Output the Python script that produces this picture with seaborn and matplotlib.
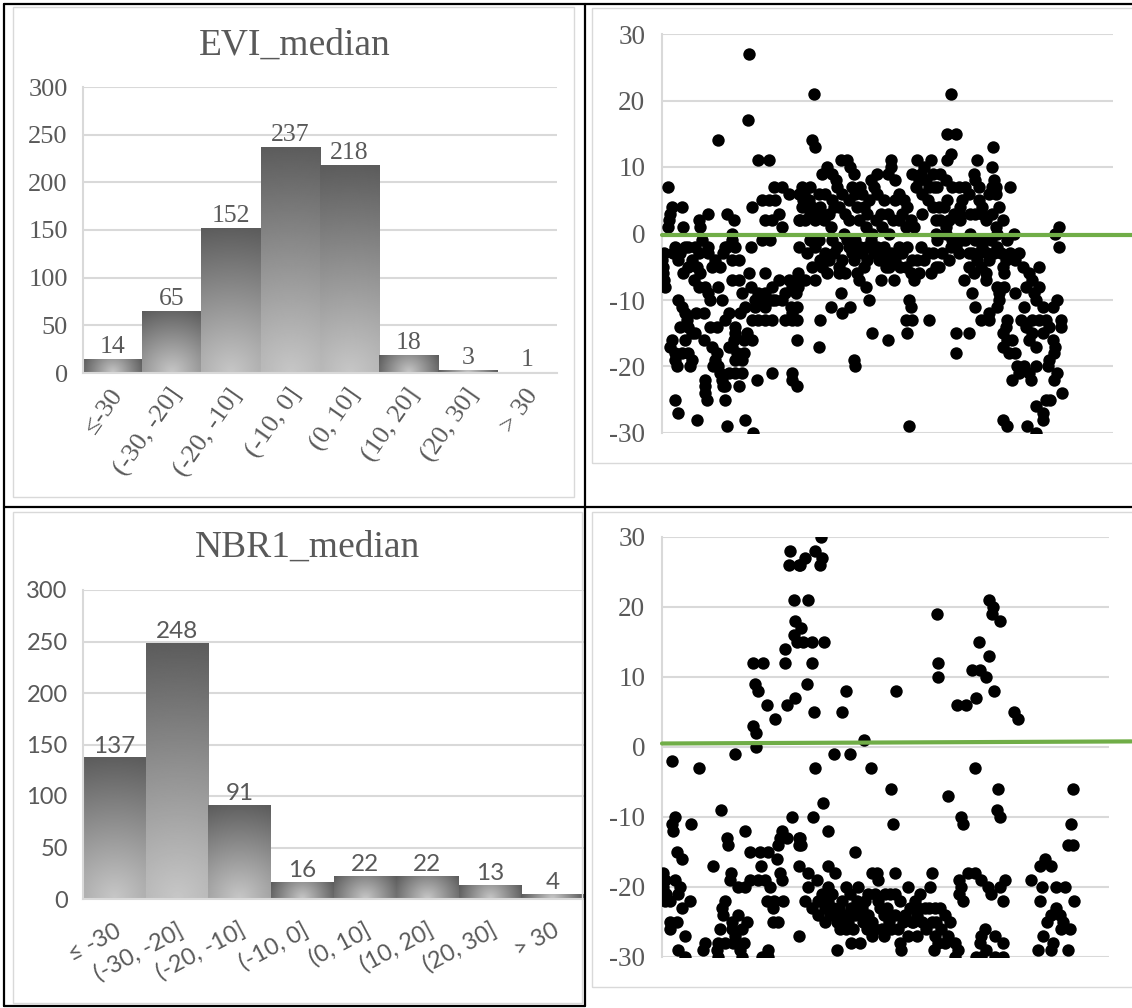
import numpy as np
import pandas as pd
import matplotlib
matplotlib.use('Agg')
import matplotlib.pyplot as plt
import matplotlib.transforms as mtransforms
from matplotlib.lines import Line2D
from matplotlib.patches import Rectangle
import seaborn as sns

# ---- histogram data ----
evi_bins = ['≤-30', '(-30, -20]', '(-20, -10]', '(-10, 0]', '(0, 10]', '(10, 20]', '(20, 30]', '> 30']
nbr_bins = ['≤ -30', '(-30, -20]', '(-20, -10]', '(-10, 0]', '(0, 10]', '(10, 20]', '(20, 30]', '> 30']
evi_counts = [14, 65, 152, 237, 218, 18, 3, 1]
nbr_counts = [137, 248, 91, 16, 22, 22, 13, 4]

# ---- scatter data (sample index, difference) ----
evi_points = [
    (154, 27), (152, 17), (100, 14), (170, 11), (189, 11), (11, 7),
    (17, 4), (14, 3), (12, 2), (11, 1), (35, 4), (38, 1), (65, 2), (82, 3), (68, 1), (115, 3), (127, 2),
    (124, 0), (124, -1), (157, -2), (177, -1), (192, -1),
    (160, 4), (177, 5), (198, 7), (213, 7), (225, 6), (183, 2), (195, 2), (207, 3), (213, 1), (189, 5),
    (201, 5), (243, 6), (243, 2), (243, -2),
    (0, -4), (1, -5), (2, -6), (4, -7), (5, -8), (3, -3),
    (23, -2), (32, -3), (41, -2), (47, -2), (59, -2), (71, -1), (82, -2), (65, -3), (53, -4), (29, -4),
    (47, -5), (62, -5), (82, -3), (94, -4), (88, -5), (103, -5), (112, -2), (115, -2), (130, -2), (124, -4),
    (136, -4), (109, -3),
    (65, -8), (76, -8), (82, -9), (85, -10), (124, -7), (136, -7), (154, -6), (183, -6), (157, -8), (171, -9),
    (183, -9), (165, -10), (177, -10), (195, -10), (165, -11), (183, -11), (195, -8), (207, -7), (225, -7),
    (237, -7), (219, -9), (231, -8), (142, -9), (148, -11), (160, -13), (171, -13), (183, -13), (195, -13),
    (228, -11), (231, -12), (231, -13),
    (29, -10), (35, -11), (41, -12), (44, -13), (47, -14), (32, -14), (53, -15), (59, -15), (41, -16),
    (85, -14), (97, -14), (112, -13), (74, -16), (74, -12),
    (130, -14), (130, -15), (127, -16), (124, -17), (133, -18), (145, -18), (145, -16), (160, -16),
    (142, -19), (130, -19),
    (17, -16), (14, -17), (23, -18), (23, -19), (26, -20), (35, -18), (47, -18), (53, -19), (50, -20),
    (97, -18), (94, -19), (91, -20), (100, -20), (103, -21), (106, -22), (109, -23), (112, -23), (118, -21),
    (130, -21), (142, -21), (136, -23), (76, -22), (76, -23), (76, -24), (79, -25),
    (23, -25), (29, -27), (62, -28), (112, -25), (115, -29), (148, -28), (162, -30), (168, -22), (195, -21),
    (231, -21), (231, -22), (240, -23),
    (20, -3), (38, -6), (56, -7), (68, -6), (100, -8), (106, -10), (118, -12), (139, -12), (150, -15),
    (201, -10), (213, -10), (219, -13), (60, -12), (88, -17), (118, -17),
    (269, 21), (266, 14), (271, 13), (317, 11), (328, 11), (293, 10), (284, 9), (302, 9), (308, 8), (311, 7),
    (334, 10), (340, 9),
    (248, 7), (263, 7), (251, 6), (260, 5), (248, 4), (266, 4), (263, 3), (245, 2), (254, 2), (272, 2),
    (284, 3), (287, 2), (281, 4), (290, 6), (302, 5),
    (314, 4), (331, 5), (325, 3), (331, 2), (352, 7), (355, 6), (349, 2), (364, 3), (379, 2), (361, 1),
    (373, 0),
    (370, 8), (382, 9), (376, 7), (382, 6), (394, 5), (400, 9), (406, 11), (406, 10), (414, 8), (420, 6),
    (414, 5), (429, 5), (400, 3),
    (420, 2), (432, 1), (447, 1), (453, 11), (465, 10), (477, 11), (480, 9), (456, 8), (450, 7), (462, 6),
    (474, 7), (471, 5), (480, 4), (462, 3), (486, 2), (486, 0),
    (250, 5), (257, 4), (275, 3), (278, 6), (296, 3), (299, 1), (305, 4), (320, 6), (337, 7), (343, 6),
    (346, 4), (358, 4), (367, 5), (388, 3), (391, 1), (403, 0), (410, 2), (426, 3), (435, 4), (441, 2),
    (444, 9), (459, 9), (468, 8), (483, 7),
    (257, -3), (272, -2), (281, -4), (284, -5), (293, -6), (302, -1), (305, -3), (314, -5), (314, -6),
    (325, -6), (311, -2), (322, 0), (331, -2), (337, -3), (340, -4), (352, -2), (355, -3), (358, -5),
    (364, -4), (376, -3), (385, -4), (391, -3), (397, -4), (397, -5), (388, -7), (406, -3), (414, -4),
    (420, -2), (423, -5), (432, -5), (441, -6), (447, -7), (456, -6), (453, -4), (471, -3), (480, -3),
    (486, -5),
    (262, -1), (266, -5), (278, -1), (290, -3), (296, -4), (320, -4), (328, -1), (343, -1), (346, -6),
    (361, -2), (370, -1), (382, -2), (394, -2), (403, -5), (411, -7), (426, -3), (435, -2), (444, -4),
    (459, -2), (465, -4), (477, -6),
    (242, -6), (254, -7), (242, -8), (237, -9), (272, -7), (317, -9), (349, -7), (361, -8), (367, -10),
    (299, -11), (334, -11), (320, -12), (281, -13), (239, -11), (239, -13),
    (438, -10), (441, -11), (432, -13), (444, -13), (474, -13), (435, -15), (373, -15), (400, -16),
    (278, -17), (239, -16), (340, -19), (343, -20), (438, -29),
    (512, 21), (506, 15), (521, 15), (512, 12), (506, 11), (587, 13), (559, 11), (586, 10),
    (494, 9), (503, 8), (488, 7), (515, 7), (527, 7), (538, 7), (544, 6), (553, 9), (556, 8), (562, 7),
    (589, 8), (592, 7), (586, 7), (592, 6), (618, 7),
    (491, 4), (506, 5), (529, 4), (527, 3), (529, 2), (562, 5), (568, 4), (568, 3), (574, 2), (586, 3),
    (592, 1), (595, 0), (494, 2), (509, 2), (503, 1),
    (500, 4), (518, 3), (532, 5), (547, 3), (556, 3), (580, 6), (598, 4), (604, 2),
    (488, -1), (503, 0), (515, -1), (512, -2), (521, -2), (527, -3), (538, -1), (544, -3), (550, -3),
    (556, -1), (562, -3), (568, -2), (577, -3), (580, -4), (589, -3), (601, -3), (610, -4), (612, -1),
    (624, 0), (627, -4), (491, -5), (544, -5), (553, -6), (565, -5), (574, -6), (574, -7), (535, -7),
    (607, -6),
    (497, -3), (509, -4), (530, -1), (547, 0), (559, -4), (571, -1), (583, -1), (595, -2), (604, -5),
    (618, -3), (633, -3), (640, -5), (645, -8), (660, -9),
    (550, -9), (556, -11), (565, -13), (580, -12), (580, -13), (595, -8), (598, -9), (607, -8), (598, -10),
    (595, -11), (627, -9), (521, -15), (544, -15), (521, -18),
    (651, -6), (669, -5), (657, -7), (669, -8), (642, -11), (663, -10), (675, -11), (693, -11), (701, -10),
    (636, -13), (645, -14), (657, -13), (669, -13), (681, -13), (687, -14), (707, -13), (707, -14),
    (612, -13), (610, -14), (604, -15), (612, -16), (621, -16), (604, -17), (615, -18), (627, -18),
    (651, -16), (657, -15), (675, -15), (693, -16), (698, -17), (695, -18), (687, -19), (663, -17),
    (630, -20), (642, -20), (651, -21), (633, -21), (621, -22), (654, -22), (663, -20), (684, -20),
    (695, -22), (701, -21), (710, -24), (681, -25), (689, -25), (663, -26), (675, -27), (675, -28),
    (604, -28), (612, -29), (648, -29), (663, -30), (704, 1), (698, 0), (704, -2),
]

nbr_points = [
    (228, 28), (225, 26), (243, 26), (234, 21), (237, 18), (234, 16), (240, 15), (219, 14), (219, 12),
    (162, 12), (180, 12), (166, 9), (170, 8), (186, 6), (201, 4), (222, 6), (237, 7), (161, 3), (168, 2),
    (167, 0), (130, -1), (18, -2), (66, -3), (105, -9), (231, -10),
    (23, -10), (17, -11), (20, -12), (52, -11), (148, -12), (115, -13), (117, -14), (213, -12), (210, -13),
    (222, -13), (207, -14), (243, -13), (243, -14),
    (26, -15), (36, -16), (157, -15), (174, -15), (189, -15), (204, -16), (176, -17), (90, -17), (243, -17),
    (2, -18), (5, -19), (2, -20), (8, -21), (5, -22), (14, -22), (23, -19), (32, -20), (29, -21),
    (50, -22), (35, -23),
    (123, -18), (121, -19), (136, -20), (148, -20), (157, -19), (171, -19), (183, -19), (192, -20),
    (210, -18), (214, -19),
    (112, -22), (106, -23), (109, -24), (186, -22), (200, -22), (215, -22), (198, -23),
    (14, -25), (26, -25), (14, -26), (124, -25), (136, -24), (151, -25), (124, -26), (142, -26), (130, -27),
    (198, -25), (207, -25), (103, -26), (41, -27), (243, -27),
    (29, -29), (41, -30), (76, -28), (73, -29), (100, -28), (112, -28), (97, -29), (100, -30), (127, -28),
    (145, -28), (139, -29), (142, -30), (178, -30), (189, -29), (189, -30),
    (283, 30), (272, 28), (284, 27), (281, 26), (254, 27), (245, 26), (260, 21),
    (248, 17), (251, 15), (266, 15), (289, 15), (266, 12), (257, 9), (327, 8), (271, 5), (320, 5),
    (359, 1), (417, 8), (489, 19), (491, 12), (490, 10),
    (306, -1), (334, -1), (273, -3), (372, -3), (407, -6), (286, -8), (269, -10), (410, -11), (296, -12),
    (245, -13), (248, -14), (344, -15), (295, -17),
    (260, -18), (260, -20), (275, -19), (296, -20), (308, -18), (327, -20), (373, -18), (382, -18),
    (385, -19), (414, -18), (438, -20), (477, -20), (481, -18),
    (254, -22), (278, -22), (293, -21), (296, -22), (290, -23), (278, -24), (290, -25), (305, -23),
    (314, -23), (317, -24), (311, -25), (317, -26), (328, -26), (325, -24), (337, -23), (346, -22),
    (355, -23), (352, -24), (361, -22), (367, -21), (379, -21), (385, -22), (373, -25), (364, -26),
    (379, -26), (394, -24), (400, -23), (406, -21), (414, -21), (423, -22), (414, -24), (420, -26),
    (429, -25), (441, -23), (450, -22), (459, -21), (456, -23), (447, -25), (438, -27), (462, -25),
    (474, -23), (486, -23), (480, -25), (486, -27),
    (311, -29), (337, -28), (352, -28), (394, -27), (373, -27), (423, -28), (425, -29), (483, -29),
    (299, -24), (331, -25), (343, -24), (358, -25), (367, -24), (388, -23), (403, -25), (432, -24),
    (444, -25), (453, -24), (468, -23), (302, -21), (320, -22), (334, -21), (349, -20), (397, -21),
    (408, -26), (392, -26), (470, -26), (453, -27), (339, -26), (285, -21), (266, -23),
    (581, 21), (589, 20), (587, 19), (602, 18), (563, 15), (581, 13), (565, 11), (552, 11), (577, 10),
    (591, 8), (559, 7), (525, 6), (540, 6), (626, 5), (633, 4),
    (556, -3), (509, -7), (598, -6), (532, -10), (535, -11), (596, -9), (601, -10), (731, -6), (728, -11),
    (722, -14), (731, -14),
    (681, -16), (672, -17), (691, -17), (657, -19), (675, -20), (701, -20), (716, -20), (672, -22),
    (733, -22), (701, -23), (692, -24), (707, -24), (684, -25), (713, -25), (710, -26), (725, -26),
    (678, -27), (695, -28), (669, -29), (692, -29), (722, -29),
    (529, -19), (544, -18), (556, -18), (568, -19), (580, -20), (601, -20), (610, -19), (532, -20),
    (529, -21), (535, -22), (586, -21), (607, -22),
    (494, -23), (503, -24), (512, -25), (497, -26), (509, -27), (521, -28), (526, -29), (521, -30),
    (491, -28), (488, -25), (503, -28),
    (574, -26), (568, -27), (565, -28), (577, -29), (559, -30), (568, -30), (592, -27), (607, -28),
    (592, -30), (607, -30),
]

# green reference lines (start / end value)
trend_x = [0, 835]
evi_trend = [-0.3, -0.3]
nbr_trend = [0.5, 0.8]

GRID = '#d9d9d9'
TXT = '#595959'
SERIF = ['Liberation Serif', 'DejaVu Serif']
SANS = ['Lato', 'DejaVu Sans']

sns.set_style('white')
plt.rcParams['font.family'] = SERIF

W, H = 1132, 1008
fig = plt.figure(figsize=(W / 100, H / 100), dpi=100)


def rect(x0, y0, x1, y1):
    # pixel box -> figure fraction rect
    return [x0 / W, 1 - y1 / H, (x1 - x0) / W, (y1 - y0) / H]


def shade_bars(ax, xlim, ylim):
    # Excel style gradient: light at bottom centre, dark towards the far corners
    for p in list(ax.patches):
        h = p.get_height()
        if h <= 0:
            continue
        bb = p.get_window_extent()
        wp, hp = max(int(bb.width), 2), max(int(round(bb.height)), 2)
        xx, yy = np.meshgrid(np.linspace(-wp / 2, wp / 2, wp), np.linspace(0, hp, hp))
        t = np.hypot(xx, yy) / np.hypot(wp / 2, hp)
        img = 0.78 - 0.42 * t
        ax.imshow(img, cmap='gray', vmin=0, vmax=1, origin='lower', aspect='auto',
                  extent=(p.get_x(), p.get_x() + p.get_width(), 0, h), zorder=2,
                  interpolation='bilinear')
        p.set_visible(False)
    ax.set_xlim(*xlim)
    ax.set_ylim(*ylim)


def histogram(box, labels, counts, font, tsize, lsize, rot, pad, dx):
    ax = fig.add_axes(rect(*box))
    sns.barplot(x=labels, y=counts, ax=ax, color='gray', width=1.0, saturation=1)
    ax.set_xlim(-0.5, len(labels) - 0.5)
    ax.set_ylim(0, 300)
    shade_bars(ax, (-0.5, len(labels) - 0.5), (0, 300))
    ax.set_yticks(range(0, 301, 50))
    ax.yaxis.grid(True, color=GRID, lw=1.5)
    ax.set_axisbelow(True)
    for s in ['top', 'right']:
        ax.spines[s].set_visible(False)
    for s in ['left', 'bottom']:
        ax.spines[s].set_color(GRID)
        ax.spines[s].set_linewidth(1.5)
    ax.tick_params(length=0, labelcolor=TXT)
    ax.tick_params(axis='y', pad=11, labelsize=tsize)
    for lab in ax.get_yticklabels():
        lab.set_family(font)
    ax.set_xticks(range(len(labels)))
    ax.set_xticklabels(labels, rotation=rot, ha='right', va='center', rotation_mode='anchor',
                       fontsize=tsize, family=font, color=TXT)
    ax.tick_params(axis='x', pad=pad)
    off = mtransforms.ScaledTranslation(dx / 100, 0, fig.dpi_scale_trans)
    for lab in ax.get_xticklabels():
        lab.set_transform(lab.get_transform() + off)
    for i, v in enumerate(counts):
        ax.annotate(str(v), (i, v), xytext=(0, 1), textcoords='offset points', ha='center',
                    va='bottom', fontsize=lsize, family=font, color=TXT)
    ax.set_xlabel('')
    ax.set_ylabel('')
    return ax


def scatter(box, points, trend, xmax):
    ax = fig.add_axes(rect(*box))
    df = pd.DataFrame(points, columns=['idx', 'diff'])
    sns.scatterplot(data=df, x='idx', y='diff', ax=ax, color='black', s=80, linewidth=0, zorder=3)
    ax.plot(trend_x, trend, color='#70ad47', lw=3, clip_on=False, zorder=4)
    ax.set_xlim(0, xmax)
    ax.set_ylim(-30, 30)
    ax.set_yticks(range(-30, 31, 10))
    ax.set_yticklabels([str(v) for v in range(-30, 31, 10)])
    ax.set_xticks([])
    ax.yaxis.grid(True, color=GRID, lw=1.5)
    ax.set_axisbelow(True)
    for s in ['top', 'right', 'bottom']:
        ax.spines[s].set_visible(False)
    ax.spines['left'].set_color(GRID)
    ax.spines['left'].set_linewidth(1.5)
    ax.tick_params(length=0, labelcolor=TXT, labelsize=19.5, pad=12)
    ax.set_xlabel('')
    ax.set_ylabel('')
    return ax


# chart area frames (light grey) and the black table lines
for x0, y0, x1, y1 in [(13, 7, 574, 497), (592, 8, 1140, 463), (13, 512, 582, 1003), (592, 512, 1140, 987)]:
    fig.add_artist(Rectangle((x0 / W, 1 - y1 / H), (x1 - x0) / W, (y1 - y0) / H,
                             transform=fig.transFigure, fill=False, edgecolor=GRID, lw=1))
for (x0, y0), (x1, y1) in [((4, 4), (1132, 4)), ((4, 4), (4, 1006)), ((4, 507), (1132, 507)),
                           ((585, 4), (585, 1006)), ((4, 1006), (585, 1006))]:
    fig.add_artist(Line2D([x0 / W, x1 / W], [1 - y0 / H, 1 - y1 / H], transform=fig.transFigure,
                          color='black', lw=1.6))

histogram((83, 87, 557, 373), evi_bins, evi_counts, SERIF, 19, 18.5, 55, 13, 6)
fig.text(295 / W, 1 - 45 / H, 'EVI_median', ha='center', va='center', fontsize=27, family=SERIF, color=TXT)

histogram((83, 590, 584, 899), nbr_bins, nbr_counts, SANS, 17, 17.5, 28, 22, 5)
fig.text(308 / W, 1 - 547 / H, 'NBR1_median', ha='center', va='center', fontsize=27, family=SERIF, color=TXT)

scatter((662, 34, 1113, 433), evi_points, evi_trend, 800)
scatter((662, 537, 1109, 957), nbr_points, nbr_trend, 795)

fig.savefig('out.png', dpi=100, facecolor='white')
